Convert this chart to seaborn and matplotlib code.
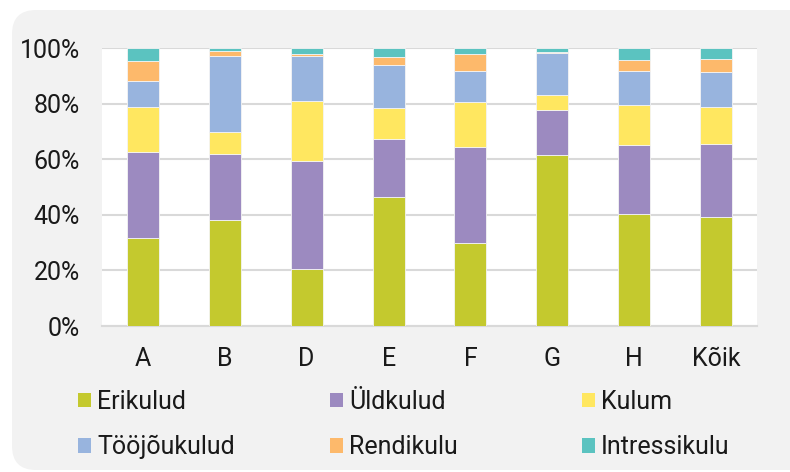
import matplotlib
matplotlib.use("Agg")
import matplotlib.pyplot as plt
import seaborn as sns
import numpy as np
from matplotlib.patches import FancyBboxPatch, Patch
from matplotlib.ticker import PercentFormatter

# andmed (osakaal %, loetud pildilt)
categories = ["A", "B", "D", "E", "F", "G", "H", "Kõik"]
erikulud = [31.6, 38.0, 20.6, 46.3, 29.8, 61.4, 40.2, 39.2]
yldkulud = [31.0, 24.0, 38.8, 20.9, 34.6, 16.3, 24.8, 26.2]
kulum = [16.2, 7.9, 21.4, 11.2, 16.2, 5.4, 14.4, 13.4]
toojoukulud = [9.3, 27.3, 16.4, 15.5, 11.3, 15.2, 12.2, 12.6]
rendikulu = [7.1, 1.6, 0.6, 2.7, 5.9, 0.4, 4.1, 4.8]
intressikulu = [4.8, 1.2, 2.2, 3.4, 2.2, 1.3, 4.3, 3.8]

series_names = ["Erikulud", "Üldkulud", "Kulum", "Tööjõukulud", "Rendikulu", "Intressikulu"]
series_vals = [erikulud, yldkulud, kulum, toojoukulud, rendikulu, intressikulu]
colors = ["#c4c92e", "#9c8ac0", "#ffe760", "#98b4de", "#fdb96b", "#5bc3c0"]

sns.set_style("white")
plt.rcParams["font.family"] = ["Roboto", "DejaVu Sans"]
txt = "#1a1a1a"

fig = plt.figure(figsize=(7.9, 4.72), dpi=100)
fig.patch.set_facecolor("white")

# hall ümardatud taust
bg = FancyBboxPatch((12, 2), 820, 460, boxstyle="round,pad=0,rounding_size=24",
                    transform=None, facecolor="#f2f2f2", edgecolor="none", zorder=-5)
fig.add_artist(bg)

ax = fig.add_axes([102 / 790, 146 / 472, 655 / 790, 278 / 472])
ax.set_facecolor("white")

bottom = np.zeros(len(categories))
for name, vals, col in zip(series_names, series_vals, colors):
    sns.barplot(x=categories, y=vals, bottom=bottom, color=col, saturation=1, width=0.39,
                edgecolor="#f4f4f4", linewidth=0.6, ax=ax, zorder=3)
    bottom = bottom + np.array(vals)

ax.set_ylim(0, 100)
ax.set_xlim(-0.5, len(categories) - 0.5)
ax.set_yticks([0, 20, 40, 60, 80, 100])
ax.yaxis.set_major_formatter(PercentFormatter(decimals=0))
ax.grid(axis="y", color="#d9d9d9", linewidth=1.5, zorder=0)
ax.set_axisbelow(True)
for s in ["top", "left", "right"]:
    ax.spines[s].set_visible(False)
ax.spines["bottom"].set_color("#d9d9d9")
ax.spines["bottom"].set_linewidth(1.5)
ax.tick_params(length=0, labelsize=18, colors=txt)
ax.tick_params(axis="y", pad=16)
ax.tick_params(axis="x", pad=15)

# legend kolmes veerus
col_x = [78, 330, 582]
for i, x0 in enumerate(col_x):
    handles = [Patch(facecolor=colors[i], edgecolor="none", label=series_names[i]),
               Patch(facecolor=colors[i + 3], edgecolor="none", label=series_names[i + 3])]
    fig.legend(handles=handles, loc="upper left", bbox_to_anchor=(x0 / 790, 1 - 390 / 472),
               frameon=False, fontsize=18, handlelength=0.52, handleheight=0.52,
               handletextpad=0.24, labelspacing=0.85, labelcolor=txt,
               borderaxespad=0, borderpad=0)

fig.savefig("out.png", dpi=100)
